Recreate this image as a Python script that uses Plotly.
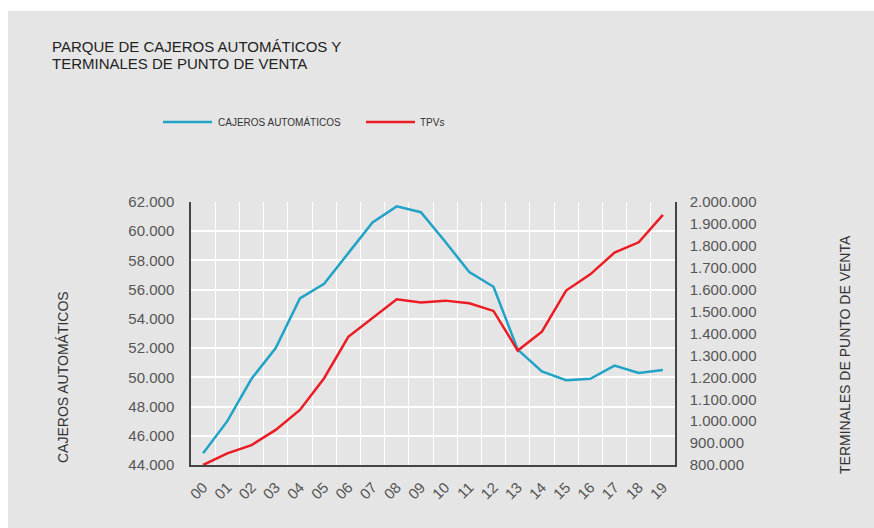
import plotly.graph_objects as go

# ---- data ----
years = ["00", "01", "02", "03", "04", "05", "06", "07", "08", "09",
         "10", "11", "12", "13", "14", "15", "16", "17", "18", "19"]
cajeros = [44800, 47000, 49900, 52000, 55400, 56400, 58500, 60600, 61700, 61300,
           59300, 57200, 56200, 51900, 50400, 49800, 49900, 50800, 50300, 50500]
tpvs = [800000, 853000, 891000, 960000, 1051000, 1196000, 1385000, 1469000, 1556000, 1542000,
        1550000, 1538000, 1503000, 1322000, 1408000, 1596000, 1670000, 1769000, 1816000, 1941000]

left_ticks = [44000, 46000, 48000, 50000, 52000, 54000, 56000, 58000, 60000, 62000]
left_labels = ["44.000", "46.000", "48.000", "50.000", "52.000", "54.000",
               "56.000", "58.000", "60.000", "62.000"]
right_ticks = [800000, 900000, 1000000, 1100000, 1200000, 1300000, 1400000,
               1500000, 1600000, 1700000, 1800000, 1900000, 2000000]
right_labels = ["800.000", "900.000", "1.000.000", "1.100.000", "1.200.000", "1.300.000",
                "1.400.000", "1.500.000", "1.600.000", "1.700.000", "1.800.000",
                "1.900.000", "2.000.000"]

title_lines = ["PARQUE DE CAJEROS AUTOMÁTICOS Y", "TERMINALES DE PUNTO DE VENTA"]
name_cajeros = "CAJEROS AUTOMÁTICOS"
name_tpvs = "TPVs"
title_left = "CAJEROS AUTOMÁTICOS"
title_right = "TERMINALES DE PUNTO DE VENTA"

BLUE = "#21a3c8"
RED = "#ec1c24"
BG = "#e5e5e5"
FONT = "Liberation Sans, Arial, sans-serif"

# ---- geometry (pixels) ----
W, H = 874, 528
L, R, T, B = 191, 675, 202, 465


def px(x):
    return (x - L) / (R - L)


def py(y):
    return (B - y) / (B - T)


fig = go.Figure()
fig.add_trace(go.Scatter(x=years, y=cajeros, mode="lines", name=name_cajeros,
                         line=dict(color=BLUE, width=2.5), yaxis="y"))
fig.add_trace(go.Scatter(x=years, y=tpvs, mode="lines", name=name_tpvs,
                         line=dict(color=RED, width=2.5), yaxis="y2"))

shapes = [
    dict(type="rect", xref="paper", yref="paper", x0=px(8), x1=px(W + 5),
         y0=py(H + 5), y1=py(11), fillcolor=BG, line=dict(width=0), layer="below"),
    dict(type="line", xref="paper", yref="paper", x0=px(163), x1=px(212),
         y0=py(122), y1=py(122), line=dict(color=BLUE, width=2.5)),
    dict(type="line", xref="paper", yref="paper", x0=px(366), x1=px(415),
         y0=py(122), y1=py(122), line=dict(color=RED, width=2.5)),
]

annotations = [
    dict(text=title_lines[0], x=px(50), y=py(46), xref="paper", yref="paper",
         xanchor="left", yanchor="middle", showarrow=False,
         font=dict(family=FONT, size=15, color="#222222")),
    dict(text=title_lines[1], x=px(50), y=py(63), xref="paper", yref="paper",
         xanchor="left", yanchor="middle", showarrow=False,
         font=dict(family=FONT, size=15, color="#222222")),
    dict(text=name_cajeros, x=px(216), y=py(122), xref="paper", yref="paper",
         xanchor="left", yanchor="middle", showarrow=False,
         font=dict(family=FONT, size=10, color="#333333")),
    dict(text=name_tpvs, x=px(418), y=py(122), xref="paper", yref="paper",
         xanchor="left", yanchor="middle", showarrow=False,
         font=dict(family=FONT, size=10, color="#333333")),
    dict(text=title_left, x=px(63), y=py(377), xref="paper", yref="paper",
         xanchor="center", yanchor="middle", textangle=-90, showarrow=False,
         font=dict(family=FONT, size=14, color="#333333")),
    dict(text=title_right, x=px(845), y=py(355), xref="paper", yref="paper",
         xanchor="center", yanchor="middle", textangle=-90, showarrow=False,
         font=dict(family=FONT, size=14, color="#333333")),
]

fig.update_layout(
    width=W, height=H,
    margin=dict(l=L, r=W - R, t=T, b=H - B, pad=0),
    paper_bgcolor="white",
    plot_bgcolor="rgba(0,0,0,0)",
    showlegend=False,
    font=dict(family=FONT, size=15, color="#555555"),
    shapes=shapes,
    annotations=annotations,
    xaxis=dict(
        type="category", range=[-0.5, 19.5], tickson="boundaries",
        showgrid=True, gridcolor="white", gridwidth=1,
        showline=True, linecolor="#444444", linewidth=1.5,
        ticks="", tickangle=-45, ticklabelstandoff=6,
        tickfont=dict(family=FONT, size=15, color="#555555"),
        zeroline=False, fixedrange=True,
    ),
    yaxis=dict(
        range=[44000, 62000], tickvals=left_ticks, ticktext=left_labels,
        showgrid=True, gridcolor="white", gridwidth=1.5,
        showline=True, linecolor="#444444", linewidth=1.5,
        ticks="", ticklabelstandoff=12, zeroline=False,
        tickfont=dict(family=FONT, size=15, color="#555555"),
    ),
    yaxis2=dict(
        range=[800000, 2000000], tickvals=right_ticks, ticktext=right_labels,
        overlaying="y", side="right", showgrid=False,
        showline=True, linecolor="#444444", linewidth=1.5,
        ticks="", ticklabelstandoff=10, zeroline=False,
        tickfont=dict(family=FONT, size=15, color="#555555"),
    ),
)

fig.write_html("out.html")
